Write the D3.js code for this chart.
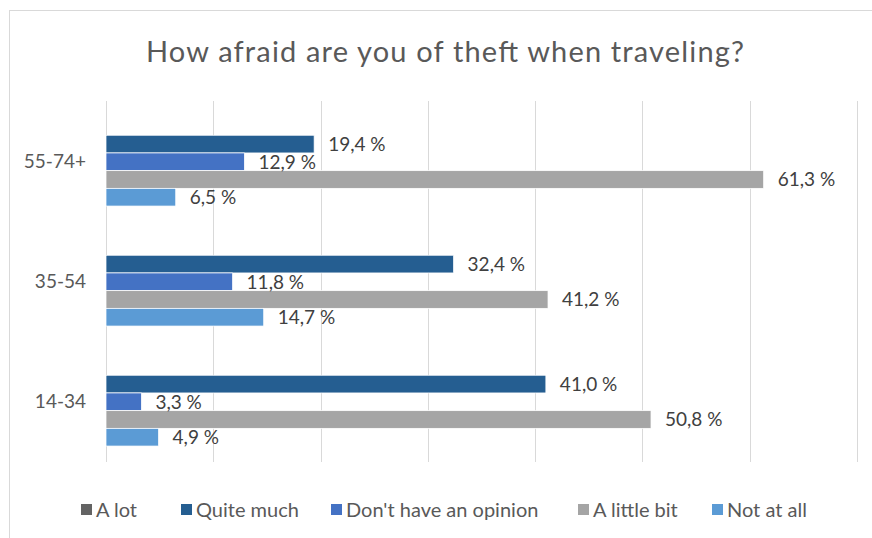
<!DOCTYPE html>
<html>
<head>
<meta charset="utf-8">
<script src="https://cdn.jsdelivr.net/npm/d3@7"></script>
<style>
  html, body { margin: 0; padding: 0; background: #fff; }
  svg { display: block; font-family: Lato, "Open Sans", sans-serif; }
</style>
</head>
<body>
<svg id="chart" width="872" height="538"></svg>
<script>
// Survey answers by age group (percent)
const categories = ["55-74+", "35-54", "14-34"];
const seriesNames = ["A lot", "Quite much", "Don't have an opinion", "A little bit", "Not at all"];
const seriesColors = ["#636363", "#255E91", "#4472C4", "#A5A5A5", "#5B9BD5"];
const aLot       = [null, null, null];
const quiteMuch  = [19.4, 32.4, 41.0];
const noOpinion  = [12.9, 11.8, 3.3];
const littleBit  = [61.3, 41.2, 50.8];
const notAtAll   = [6.5, 14.7, 4.9];
const xTicks = [0, 10, 20, 30, 40, 50, 60, 70];

const seriesValues = [aLot, quiteMuch, noOpinion, littleBit, notAtAll];
const rows = categories.map((c, i) => ({
  category: c,
  values: seriesNames.map((s, k) => ({ key: s, value: seriesValues[k][i], color: seriesColors[k] }))
}));

const svg = d3.select("#chart");

// outer chart frame
svg.append("rect")
  .attr("x", 9.5).attr("y", 10.5)
  .attr("width", 872).attr("height", 540)
  .attr("fill", "#fff").attr("stroke", "#D9D9D9").attr("stroke-width", 1);

// title
svg.append("text")
  .attr("x", 445).attr("y", 62)
  .attr("text-anchor", "middle")
  .attr("fill", "#595959")
  .attr("font-size", 29)
  .attr("textLength", 598)
  .attr("lengthAdjust", "spacing")
  .text("How afraid are you of theft when traveling?");

const x = d3.scaleLinear().domain([0, 70]).range([106, 857]);
const y0 = d3.scaleBand().domain(categories).range([101.8, 461.8])
  .paddingInner(0.2625).paddingOuter(0.13125);
const y1 = d3.scaleBand().domain(seriesNames).range([0, y0.bandwidth()]);

// vertical gridlines
svg.append("g")
  .selectAll("line")
  .data(xTicks)
  .join("line")
  .attr("x1", d => Math.round(x(d)) + 0.5).attr("x2", d => Math.round(x(d)) + 0.5)
  .attr("y1", 101).attr("y2", 462)
  .attr("stroke", "#D9D9D9").attr("stroke-width", 1);

// category axis labels
const yAxis = d3.axisLeft(y0).tickSize(0).tickPadding(20);
const gy = svg.append("g").attr("transform", `translate(${x(0)},0)`).call(yAxis);
gy.select(".domain").remove();
gy.selectAll("text")
  .attr("font-family", "Lato, sans-serif")
  .attr("font-size", 19)
  .attr("fill", "#595959");

// bars
const groups = svg.append("g").selectAll("g")
  .data(rows)
  .join("g")
  .attr("transform", d => `translate(0,${y0(d.category)})`);

groups.selectAll("rect")
  .data(d => d.values.filter(v => v.value != null))
  .join("rect")
  .attr("x", x(0))
  .attr("y", d => y1(d.key))
  .attr("width", d => x(d.value) - x(0))
  .attr("height", y1.bandwidth())
  .attr("fill", d => d.color)
  .attr("stroke", "#fff").attr("stroke-width", 0.75);

// value labels
const fmt = v => d3.format(".1f")(v).replace(".", ",") + " %";
groups.selectAll("text")
  .data(d => d.values.filter(v => v.value != null))
  .join("text")
  .attr("x", d => x(d.value) + 14)
  .attr("y", d => y1(d.key) + y1.bandwidth() / 2)
  .attr("dy", "0.36em")
  .attr("font-size", 19)
  .attr("fill", "#404040")
  .text(d => fmt(d.value));

// legend
const legendX = [81, 181, 331, 578, 712];
const legend = svg.append("g").selectAll("g")
  .data(seriesNames)
  .join("g")
  .attr("transform", (d, i) => `translate(${legendX[i]},510)`);
legend.append("rect")
  .attr("x", 0).attr("y", -6)
  .attr("width", 11).attr("height", 11)
  .attr("fill", (d, i) => seriesColors[i]);
legend.append("text")
  .attr("x", 15).attr("y", 0)
  .attr("dy", "0.36em")
  .attr("font-size", 20)
  .attr("fill", "#595959")
  .text(d => d);
</script>
</body>
</html>
